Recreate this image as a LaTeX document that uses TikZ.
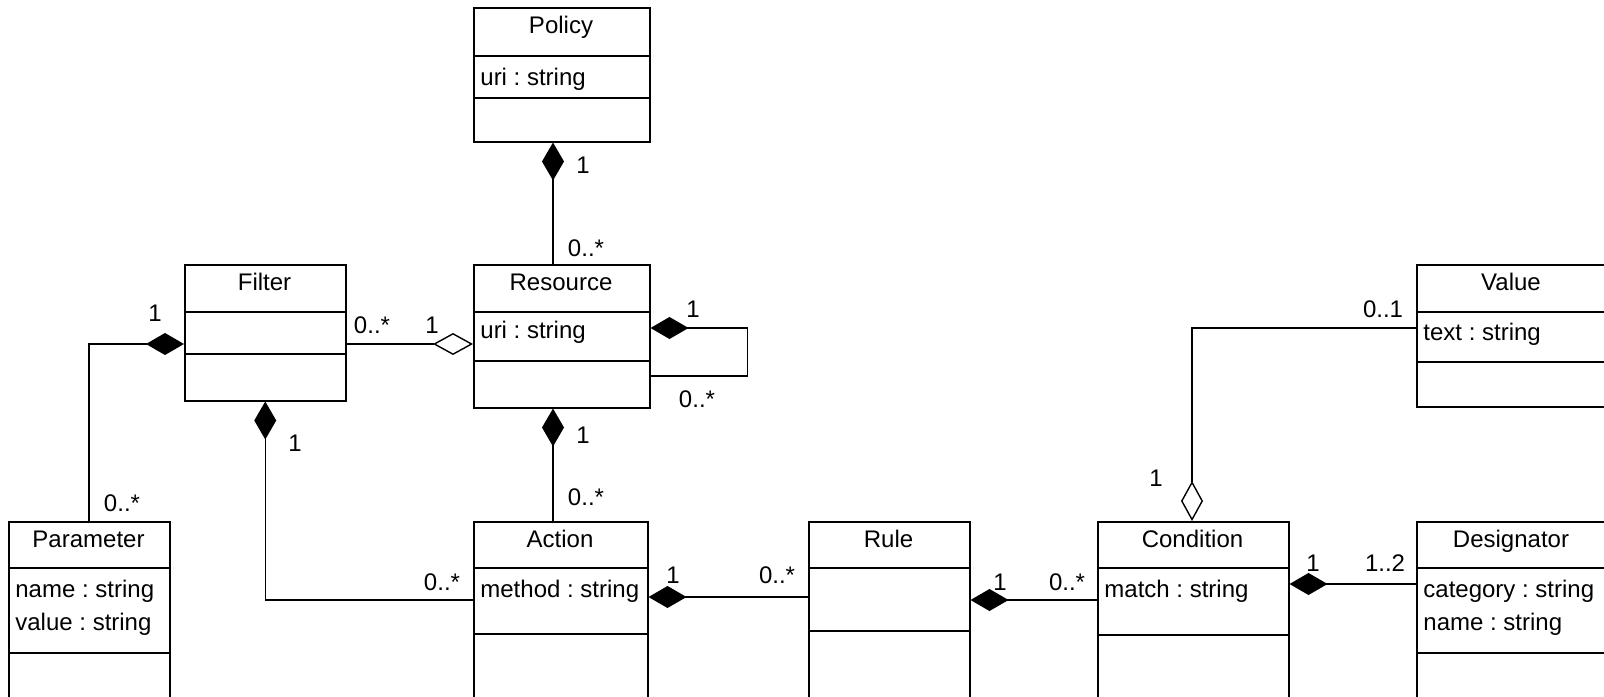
\documentclass[tikz,border=0pt]{standalone}
\usepackage{fontspec}
\setmainfont{Liberation Sans}
\frenchspacing % no extra space after the colons
\usetikzlibrary{arrows.meta,positioning,calc}
\tikzset{every node/.style={font=\fontsize{12}{14}\selectfont},
        umlclass/.style={ % Empty class box, compartments drawn on top
            draw, line width=0.75pt,
            anchor=north west, inner sep=0pt},
        title/.style={anchor=base, inner sep=0pt}, % Class name
        attr/.style={anchor=base west, inner sep=0pt}, % Attribute line
        mult/.style={inner sep=0pt}, % Multiplicity label
        comp/.style={ % Composition: filled diamond at the owner
            draw, line width=0.7pt,
            {Diamond[length=19pt,width=11pt]}-},
        aggr/.style={ % Aggregation: open diamond at the owner
            draw, line width=0.7pt,
            {Diamond[open,length=20pt,width=11pt]}-}
        }

\begin{document}
\begin{tikzpicture}[x=0.5pt,y=-0.5pt]
    \useasboundingbox (0,0) rectangle (1604,696);

    % classes
    \node[umlclass, minimum width=88pt, minimum height=67pt] (policy) at (473,7) {};
    \draw[line width=0.75pt] ($(policy.north west)+(0,49)$) -- ($(policy.north east)+(0,49)$);
    \draw[line width=0.75pt] ($(policy.north west)+(0,91)$) -- ($(policy.north east)+(0,91)$);
    \node[title] (policy-t) at (561,33) {Policy};
    \node[attr] (policy-a) at (480,85) {uri : string};

    \node[umlclass, minimum width=88pt, minimum height=71.5pt] (resource) at (473,264) {};
    \draw[line width=0.75pt] ($(resource.north west)+(0,48)$) -- ($(resource.north east)+(0,48)$);
    \draw[line width=0.75pt] ($(resource.north west)+(0,97)$) -- ($(resource.north east)+(0,97)$);
    \node[title] (resource-t) at (561,290) {Resource};
    \node[attr] (resource-a) at (480,338) {uri : string};

    \node[umlclass, minimum width=80.5pt, minimum height=68pt] (filter) at (184,264) {};
    \draw[line width=0.75pt] ($(filter.north west)+(0,48)$) -- ($(filter.north east)+(0,48)$);
    \draw[line width=0.75pt] ($(filter.north west)+(0,90)$) -- ($(filter.north east)+(0,90)$);
    \node[title] (filter-t) at (264.5,290) {Filter};

    \node[umlclass, minimum width=80.5pt, minimum height=100pt] (parameter) at (8,521) {};
    \draw[line width=0.75pt] ($(parameter.north west)+(0,47)$) -- ($(parameter.north east)+(0,47)$);
    \draw[line width=0.75pt] ($(parameter.north west)+(0,132)$) -- ($(parameter.north east)+(0,132)$);
    \node[title] (parameter-t) at (88.5,547) {Parameter};
    \node[attr] (parameter-a) at (15,597) {name : string};
    \node[attr] (parameter-b) at (15,630) {value : string};

    \node[umlclass, minimum width=87pt, minimum height=100pt] (action) at (473,521) {};
    \draw[line width=0.75pt] ($(action.north west)+(0,47)$) -- ($(action.north east)+(0,47)$);
    \draw[line width=0.75pt] ($(action.north west)+(0,113)$) -- ($(action.north east)+(0,113)$);
    \node[title] (action-t) at (560,547) {Action};
    \node[attr] (action-a) at (480,597) {method : string};

    \node[umlclass, minimum width=80.5pt, minimum height=100pt] (rule) at (808,521) {};
    \draw[line width=0.75pt] ($(rule.north west)+(0,47)$) -- ($(rule.north east)+(0,47)$);
    \draw[line width=0.75pt] ($(rule.north west)+(0,110)$) -- ($(rule.north east)+(0,110)$);
    \node[title] (rule-t) at (888.5,547) {Rule};

    \node[umlclass, minimum width=95.5pt, minimum height=100pt] (condition) at (1097,521) {};
    \draw[line width=0.75pt] ($(condition.north west)+(0,47)$) -- ($(condition.north east)+(0,47)$);
    \draw[line width=0.75pt] ($(condition.north west)+(0,114)$) -- ($(condition.north east)+(0,114)$);
    \node[title] (condition-t) at (1192.5,547) {Condition};
    \node[attr] (condition-a) at (1104,597) {match : string};

    \node[umlclass, minimum width=95pt, minimum height=100pt] (designator) at (1416,521) {};
    \draw[line width=0.75pt] ($(designator.north west)+(0,47)$) -- ($(designator.north east)+(0,47)$);
    \draw[line width=0.75pt] ($(designator.north west)+(0,132)$) -- ($(designator.north east)+(0,132)$);
    \node[title] (designator-t) at (1511,547) {Designator};
    \node[attr] (designator-a) at (1423,597) {category : string};
    \node[attr] (designator-b) at (1423,630) {name : string};

    \node[umlclass, minimum width=95pt, minimum height=71pt] (value) at (1416,264) {};
    \draw[line width=0.75pt] ($(value.north west)+(0,48)$) -- ($(value.north east)+(0,48)$);
    \draw[line width=0.75pt] ($(value.north west)+(0,98)$) -- ($(value.north east)+(0,98)$);
    \node[title] (value-t) at (1511,290) {Value};
    \node[attr] (value-a) at (1423,340) {text : string};

    % associations
    \draw[comp] ($(policy.south west)+(80,0)$) -- ($(resource.north west)+(80,0)$);
    \draw[aggr] ($(resource.north west)+(0,80)$) -- ($(filter.north east)+(0,80)$);
    \draw[comp] ($(filter.north west)+(0,80)$) -| ($(parameter.north west)+(81,0)$);
    \draw[comp] (filter.south) |- ($(action.north west)+(0,79)$);
    \draw[comp] ($(resource.south west)+(80,0)$) -- ($(action.north west)+(80,0)$);
    \draw[comp] ($(resource.north east)+(0,64)$) -- ++(97,0) -- ++(0,48) -- ++(-99,0);
    \draw[comp] ($(action.north east)+(0,76)$) -- ($(rule.north west)+(0,76)$);
    \draw[comp] ($(rule.north east)+(0,79)$) -- ($(condition.north west)+(0,79)$);
    \draw[aggr] ($(condition.north west)+(95,0)$) |- ($(value.north west)+(0,64)$);
    \draw[comp] ($(condition.north east)+(0,63)$) -- ($(designator.north west)+(0,63)$);

    % multiplicities
    \node[mult] (m1a) at (583,165) {1};
    \node[mult] (m1b) at (586,248) {0..*};
    \node[mult] (m2a) at (432,325) {1};
    \node[mult] (m2b) at (372,325) {0..*};
    \node[mult] (m3a) at (155,313) {1};
    \node[mult] (m3b) at (122,503) {0..*};
    \node[mult] (m4a) at (295,443) {1};
    \node[mult] (m4b) at (442,582) {0..*};
    \node[mult] (m5a) at (583,435) {1};
    \node[mult] (m5b) at (586,497) {0..*};
    \node[mult] (m6a) at (693,309) {1};
    \node[mult] (m6b) at (697,399) {0..*};
    \node[mult] (m7a) at (673,575) {1};
    \node[mult] (m7b) at (777,575) {0..*};
    \node[mult] (m8a) at (1000,582) {1};
    \node[mult] (m8b) at (1067,582) {0..*};
    \node[mult] (m9a) at (1156,478) {1};
    \node[mult] (m9b) at (1383,309) {0..1};
    \node[mult] (m10a) at (1313,563) {1};
    \node[mult] (m10b) at (1385,563) {1..2};
\end{tikzpicture}
\end{document}
